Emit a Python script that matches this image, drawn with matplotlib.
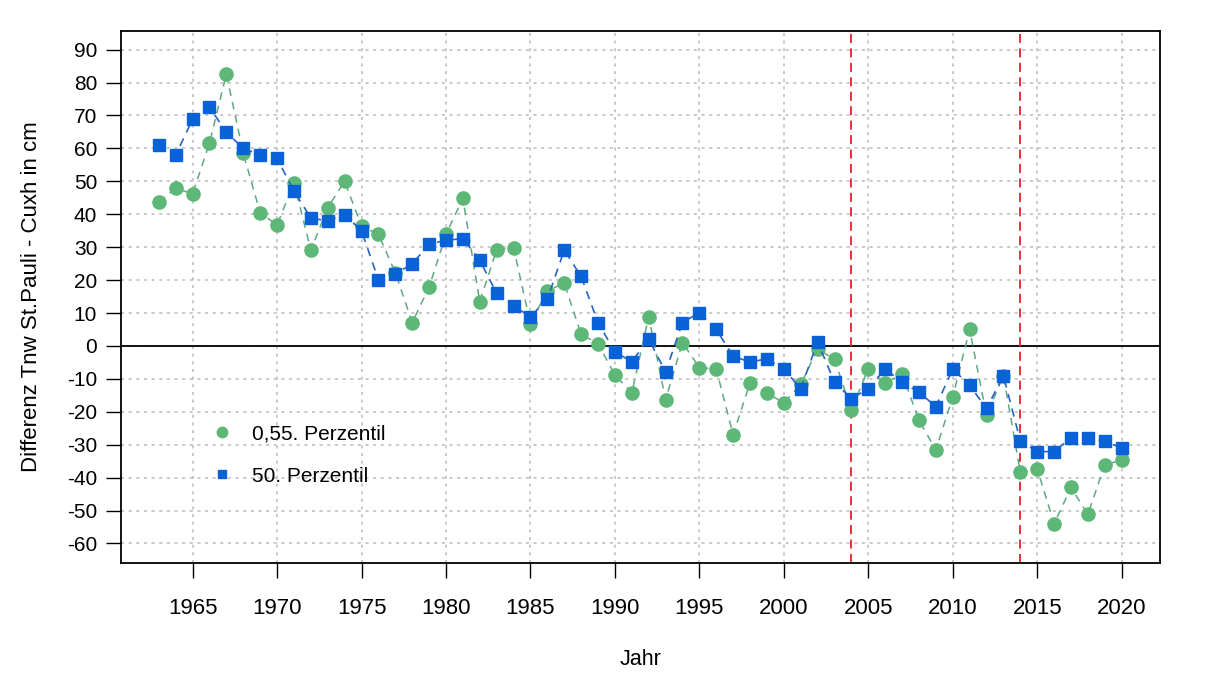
import matplotlib
matplotlib.use("Agg")
import matplotlib.pyplot as plt
from matplotlib.lines import Line2D

plt.rcParams['font.family'] = ['Liberation Sans', 'DejaVu Sans']
plt.rcParams['axes.unicode_minus'] = False

# Data
years = list(range(1963, 2021))
p055 = [43.8, 47.9, 46.2, 61.6, 82.6, 58.5, 40.5, 36.7, 49.6, 29.1,
        42.0, 50.0, 36.4, 33.9, 22.3, 7.1, 17.8, 33.9, 44.8, 13.4,
        29.2, 29.8, 6.8, 16.7, 19.1, 3.5, 0.7, -8.8, -14.3, 8.9,
        -16.3, 1.0, -6.6, -7.0, -27.0, -11.2, -14.3, -17.3, -11.7, -0.9,
        -4.1, -19.4, -7.0, -11.4, -8.4, -22.6, -31.6, -15.5, 5.0, -21.1,
        -9.0, -38.4, -37.3, -54.0, -43.0, -51.2, -36.1, -34.7]
p50 = [61.0, 57.9, 68.9, 72.5, 64.9, 60.0, 58.0, 57.0, 47.0, 38.9,
       37.9, 39.9, 35.0, 20.1, 21.9, 24.9, 30.9, 32.1, 32.6, 26.0,
       16.0, 12.1, 8.9, 14.2, 29.1, 21.1, 7.1, -1.8, -4.8, 2.1,
       -7.9, 7.1, 10.1, 5.0, -3.1, -4.9, -3.9, -7.0, -13.0, 1.2,
       -11.0, -16.0, -13.0, -7.0, -11.0, -14.1, -18.4, -7.0, -12.0, -19.0,
       -9.0, -28.9, -32.1, -32.1, -27.9, -27.9, -29.0, -31.0]
marker_years = [2004, 2014]
yticks = list(range(-60, 91, 10))
xticks = list(range(1965, 2021, 5))

green = '#5DB878'
blue = '#0A62D8'

fig = plt.figure(figsize=(12.08, 6.86), dpi=100)
ax = fig.add_axes([0.100, 0.179, 0.860, 0.776])

ax.grid(True, color='#BBBBBB', linestyle=(0, (2, 3)), linewidth=1.1)
ax.set_axisbelow(True)

ax.axhline(0, color='black', linewidth=1.3, zorder=2)
for yr in marker_years:
    ax.axvline(yr, color='#E3212B', linestyle=(0, (5, 3)), linewidth=1.3, zorder=2)

ax.plot(years, p055, color='#5FA883', linestyle=(0, (5, 4)), linewidth=1.1, zorder=3)
ax.plot(years, p055, 'o', color=green, markersize=9.5, zorder=4)
ax.plot(years, p50, color='#2A62C0', linestyle=(0, (5, 4)), linewidth=1.2, zorder=5)
ax.plot(years, p50, 's', color=blue, markersize=8.5, zorder=6)

ax.set_xlim(1960.75, 2022.25)
ax.set_ylim(-66, 95.7)
ax.set_xticks(xticks)
ax.set_yticks(yticks)
ax.tick_params(axis='both', direction='out', length=11, width=1)
ax.tick_params(axis='x', pad=14, labelsize=16)
ax.tick_params(axis='y', pad=6, labelsize=15)
for s in ax.spines.values():
    s.set_linewidth(1.3)

ax.set_xlabel('Jahr', fontsize=15.5, labelpad=22)
ax.set_ylabel('Differenz Tnw St.Pauli - Cuxh in cm', fontsize=16, labelpad=18)

handles = [Line2D([], [], marker='o', linestyle='none', color=green, markersize=7.5),
           Line2D([], [], marker='s', linestyle='none', color=blue, markersize=6)]
ax.legend(handles, ['0,55. Perzentil', '50. Perzentil'], frameon=False,
          loc='center left', bbox_to_anchor=(0.082, 0.203), fontsize=15,
          borderaxespad=0, borderpad=0, handletextpad=0.7,
          labelspacing=1.1, handlelength=1.5)

fig.savefig('out.png', dpi=100)
